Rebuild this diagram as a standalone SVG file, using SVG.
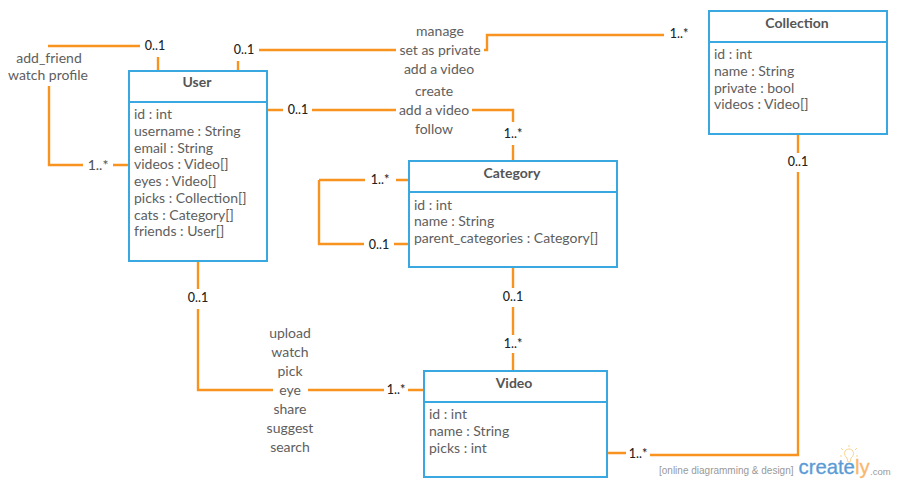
<svg xmlns="http://www.w3.org/2000/svg" width="897" height="485" viewBox="0 0 897 485">
<style>
text{font-family:Lato,"Open Sans","Liberation Sans",sans-serif;fill:#5e5e5e;font-size:14px}
.box{fill:#fff;stroke:#39a7e0;stroke-width:2}
.t{font-size:14px;font-weight:700;text-anchor:middle;fill:#555}
.c{fill:none;stroke:#f7931e;stroke-width:2.4}
.l{text-anchor:middle}
.m{font-size:12.5px;font-weight:500;text-anchor:middle;fill:#222}
</style>
<rect width="897" height="485" fill="#fff"/>
<g id="connectors">
<path class="c" d="M48 46H140M158 57V71M238 61V71M259 50H396M484 50H487V35H664M49 86V165H83M113 165H129M268 110H283M312 110H396M472 110H513V122M513 145V161M319 180H365M396 180H409M319 180V244H364M394 244H409M198 261V289M198 309V390H273M308 390H384M408 390H424M513 268V288M513 307V335M513 353V371M608 453H626M650 455H798V172M798 134V153"/>
</g>
<g id="labels">
<text class="m" x="155" y="50">0..1</text>
<text class="m" x="244" y="54">0..1</text>
<text class="l" x="49" y="63">add_friend</text>
<text class="l" x="48" y="80">watch profile</text>
<text class="m" x="98" y="170" style="font-size:14px;fill:#555">1..*</text>
<text class="m" x="298" y="114">0..1</text>
<text class="l" x="440" y="36">manage</text>
<text class="l" x="440" y="55">set as private</text>
<text class="l" x="439" y="74">add a video</text>
<text class="l" x="434" y="96">create</text>
<text class="l" x="434" y="115">add a video</text>
<text class="l" x="434" y="134">follow</text>
<text class="m" x="513" y="138">1..*</text>
<text class="m" x="679" y="38">1..*</text>
<text class="m" x="798" y="166">0..1</text>
<text class="m" x="380" y="184">1..*</text>
<text class="m" x="379" y="249">0..1</text>
<text class="m" x="198" y="302">0..1</text>
<text class="m" x="513" y="301">0..1</text>
<text class="m" x="513" y="348">1..*</text>
<text class="m" x="396" y="394">1..*</text>
<text class="m" x="638" y="458">1..*</text>
<text class="l" x="290" y="338">upload</text>
<text class="l" x="290" y="357">watch</text>
<text class="l" x="290" y="376">pick</text>
<text class="l" x="290" y="395">eye</text>
<text class="l" x="290" y="414">share</text>
<text class="l" x="290" y="433">suggest</text>
<text class="l" x="290" y="452">search</text>
</g>
<g id="user">
<rect class="box" x="129" y="71" width="138" height="190"/>
<path class="box" d="M129 102H267"/>
<text class="t" x="197" y="87">User</text>
<text x="134" y="119">id : int</text><text x="134" y="136">username : String</text><text x="134" y="153">email : String</text><text x="134" y="169">videos : Video[]</text><text x="134" y="186">eyes : Video[]</text><text x="134" y="203">picks : Collection[]</text><text x="134" y="220">cats : Category[]</text><text x="134" y="236">friends : User[]</text>
</g>
<g id="category">
<rect class="box" x="409" y="161" width="208" height="106"/>
<path class="box" d="M409 192H617"/>
<text class="t" x="512" y="178">Category</text>
<text x="414" y="210">id : int</text><text x="414" y="226">name : String</text><text x="414" y="243">parent_categories : Category[]</text>
</g>
<g id="collection">
<rect class="box" x="709" y="11" width="178" height="123"/>
<path class="box" d="M709 42H887"/>
<text class="t" x="797" y="28">Collection</text>
<text x="714" y="59">id : int</text><text x="714" y="76">name : String</text><text x="714" y="93">private : bool</text><text x="714" y="109">videos : Video[]</text>
</g>
<g id="video">
<rect class="box" x="424" y="371" width="183" height="106"/>
<path class="box" d="M424 402H607"/>
<text class="t" x="514" y="388">Video</text>
<text x="429" y="419">id : int</text><text x="429" y="436">name : String</text><text x="429" y="453">picks : int</text>
</g>
<g id="watermark">
<text x="659" y="474" style="font-family:'Liberation Sans',sans-serif;font-size:10px;fill:#999">[online diagramming &amp; design]</text>
<text x="798.500" y="474" style="font-family:'Liberation Sans',sans-serif;font-size:20.300px;fill:#5b9bd5;stroke:#5b9bd5;stroke-width:.3">create<tspan style="fill:#f9b76b;stroke:#f9b76b">ly</tspan></text>
<text x="870" y="475" style="font-family:'Liberation Sans',sans-serif;font-size:9.500px;fill:#999">.com</text>
<path d="M847 458c-4-3-3-9 2-9s6 6 2 9l-1 4h-2z" fill="#fff" stroke="#f9d48f"/>
<path d="M849 447v-2M843 450l-2-2M855 450l2-2M842 456h-2M856 456h2" stroke="#f9d48f"/>
</g>
</svg>
